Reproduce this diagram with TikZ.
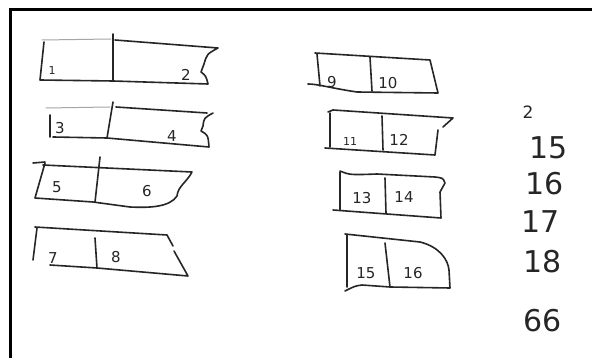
\documentclass[tikz,border=0pt]{standalone}
\usepackage{fontspec}
\setmainfont{DejaVu Sans}
\begin{document}
\begin{tikzpicture}[x=1pt,y=-1pt,
  pen/.style={draw=black!85,line width=1.6pt,line cap=round,line join=round},
  faint/.style={draw=black!35,line width=1pt,line cap=round},
  lbl/.style={text=black!85,inner sep=0pt,font=\fontsize{15}{15}\selectfont},
  small/.style={text=black!85,inner sep=0pt,font=\fontsize{11}{11}\selectfont},
  big/.style={text=black!85,inner sep=0pt,font=\fontsize{30}{30}\selectfont}]
\useasboundingbox (0,0) rectangle (592,358);
\fill[white] (0,0) rectangle (592,358);
% frame
\draw[line width=3pt] (10,358) -- (10,10) -- (592,10);

% box 1-2
\draw[faint] (42,40) -- (111,39);
\draw[pen] (115,40) -- (218,48) .. controls (207,54) .. (204,64) -- (201,72) .. controls (206,76) .. (208,84) -- (113,81) -- (40,80) -- (44,42);
\draw[pen] (113,34) -- (113,81);
\node[small] (n1) at (52,70) {1};
\node[lbl] (n2) at (186,75) {2};

% box 3-4
\draw[faint] (46,108) -- (110,107);
\draw[pen] (116,107) -- (207,113);
\draw[pen] (213,113) .. controls (204,118) .. (203,126) -- (201,131) .. controls (208,135) .. (209,147) -- (107,138) -- (53,137);
\draw[pen] (50,115) -- (50,137);
\draw[pen] (113,102) -- (107,138);
\node[lbl] (n3) at (60,128) {3};
\node[lbl] (n4) at (172,136) {4};

% box 5-6
\draw[pen] (33,163) -- (45,162);
\draw[pen] (43,165) -- (192,172) .. controls (187,182) and (178,186) .. (177,196) .. controls (170,207) and (150,208) .. (130,207) -- (93,202) -- (35,198) -- (45,163);
\draw[pen] (100,157) -- (95,202);
\node[lbl] (n5) at (57,187) {5};
\node[lbl] (n6) at (147,191) {6};

% box 7-8
\draw[pen] (35,227) -- (167,235) -- (173,246);
\draw[pen] (174,251) -- (188,276) -- (97,268) -- (50,265);
\draw[pen] (37,228) -- (33,260);
\draw[pen] (95,238) -- (97,268);
\node[lbl] (n7) at (53,258) {7};
\node[lbl] (n8) at (116,257) {8};

% box 9-10
\draw[pen] (315,53) -- (430,60) -- (438,93) -- (357,92) .. controls (330,88) and (318,84) .. (308,84);
\draw[pen] (317,54) -- (320,86);
\draw[pen] (370,57) -- (372,91);
\node[lbl] (n9) at (332,82) {9};
\node[lbl] (n10) at (388,83) {10};

% box 11-12
\draw[pen] (328,112) -- (333,110) -- (453,118) -- (443,127);
\draw[pen] (438,130) -- (435,155) -- (325,148);
\draw[pen] (330,113) -- (330,147);
\draw[pen] (382,116) -- (383,150);
\node[small] (n11) at (350,141) {11};
\node[lbl] (n12) at (399,140) {12};

% box 13-14
\draw[pen] (340,171) .. controls (350,175) .. (377,174) -- (435,177) .. controls (443,178) .. (445,183) -- (440,192) -- (441,218) -- (333,210);
\draw[pen] (340,172) -- (340,210);
\draw[pen] (385,178) -- (386,213);
\node[lbl] (n13) at (362,198) {13};
\node[lbl] (n14) at (404,197) {14};

% box 15-16
\draw[pen] (345,234) -- (420,242) .. controls (440,247) and (448,260) .. (449,270) -- (450,288) -- (390,287) -- (362,285) .. controls (355,286) .. (345,291);
\draw[pen] (347,235) -- (347,287);
\draw[pen] (385,243) -- (390,287);
\node[lbl] (n15) at (366,273) {15};
\node[lbl] (n16) at (413,273) {16};

% right column
\node[font=\fontsize{17}{17}\selectfont,text=black!85,inner sep=0pt] (s2) at (528,112) {2};
\node[big] (s15) at (549,148) {15};
\node[big] (s16) at (545,184) {16};
\node[big] (s17) at (541,222) {17};
\node[big] (s18) at (543,262) {18};
\node[big] (s66) at (543,321) {66};
\end{tikzpicture}
\end{document}
